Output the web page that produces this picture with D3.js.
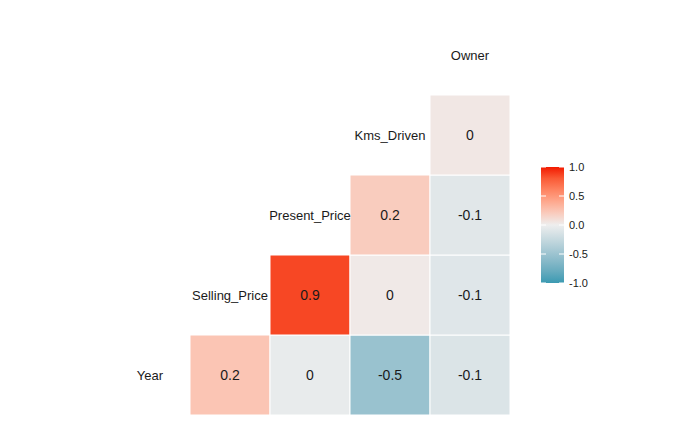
<!DOCTYPE html>
<html>
<head>
<meta charset="utf-8">
<script src="https://d3js.org/d3.v7.min.js"></script>
<style>body{margin:0;background:#fff}</style>
</head>
<body>
<div id="chart"></div>
<script>
// variables in order, and lower-triangle correlations (estimated)
const vars = ["Year", "Selling_Price", "Present_Price", "Kms_Driven", "Owner"];
const pairs = [
  ["Year", "Selling_Price", 0.24], ["Year", "Present_Price", -0.04],
  ["Year", "Kms_Driven", -0.52], ["Year", "Owner", -0.12],
  ["Selling_Price", "Present_Price", 0.88], ["Selling_Price", "Kms_Driven", 0.03],
  ["Selling_Price", "Owner", -0.09], ["Present_Price", "Kms_Driven", 0.2],
  ["Present_Price", "Owner", -0.08], ["Kms_Driven", "Owner", 0.04]
];
const legendTicks = [1, 0.5, 0, -0.5, -1];

const width = 700, height = 432;
const svg = d3.select("#chart").append("svg").attr("width", width).attr("height", height);

const x = d3.scaleBand().domain(vars).range([110, 510]);
const y = d3.scaleBand().domain(vars).range([415, 15]);
const color = d3.scaleLinear().domain([-1, 0, 1]).range(["#3B9AB2", "#EEEEEE", "#F21A00"]).interpolate(d3.interpolateLab);
const fmt = v => d3.format(".1f")(v).replace("\u2212", "-").replace(/\.0$/, "").replace(/^-0$/, "0");

// cells: row = first var, column = second var
svg.selectAll("rect.cell").data(pairs).enter().append("rect")
  .attr("x", d => x(d[1])).attr("y", d => y(d[0]))
  .attr("width", x.bandwidth()).attr("height", y.bandwidth())
  .attr("fill", d => color(d[2])).attr("stroke", "#fff").attr("stroke-width", 1);

svg.selectAll("text.val").data(pairs).enter().append("text")
  .attr("x", d => x(d[1]) + x.bandwidth() / 2).attr("y", d => y(d[0]) + y.bandwidth() / 2)
  .attr("text-anchor", "middle").attr("dy", "0.35em")
  .style("font", "14px Arial, 'Liberation Sans', sans-serif").attr("fill", "#1a1a1a")
  .text(d => fmt(d[2]));

// diagonal labels
svg.selectAll("text.lab").data(vars).enter().append("text")
  .attr("x", d => x(d) + x.bandwidth() / 2).attr("y", d => y(d) + y.bandwidth() / 2)
  .attr("text-anchor", "middle").attr("dy", "0.35em")
  .style("font", "13px Arial, 'Liberation Sans', sans-serif").attr("fill", "#1a1a1a")
  .text(d => d);

// legend
const ly = d3.scaleLinear().domain([-1, 1]).range([283, 167]);
const defs = svg.append("defs");
const grad = defs.append("linearGradient").attr("id", "g").attr("x1", 0).attr("y1", 1).attr("x2", 0).attr("y2", 0);
d3.range(0, 1.001, 0.1).forEach(t => grad.append("stop").attr("offset", t).attr("stop-color", color(t * 2 - 1)));
svg.append("rect").attr("x", 541).attr("y", ly(1)).attr("width", 23).attr("height", ly(-1) - ly(1)).attr("fill", "url(#g)");
svg.selectAll("line.tk").data(legendTicks).enter().append("line")
  .attr("x1", 541).attr("x2", 546).attr("y1", d => ly(d)).attr("y2", d => ly(d)).attr("stroke", "#fff");
svg.selectAll("line.tk2").data(legendTicks).enter().append("line")
  .attr("x1", 559).attr("x2", 564).attr("y1", d => ly(d)).attr("y2", d => ly(d)).attr("stroke", "#fff");
svg.selectAll("text.lt").data(legendTicks).enter().append("text")
  .attr("x", 569).attr("y", d => ly(d)).attr("dy", "0.35em")
  .style("font", "11px Arial, 'Liberation Sans', sans-serif").attr("fill", "#1a1a1a")
  .text(d => d3.format(".1f")(d).replace("\u2212", "-"));
</script>
</body>
</html>
